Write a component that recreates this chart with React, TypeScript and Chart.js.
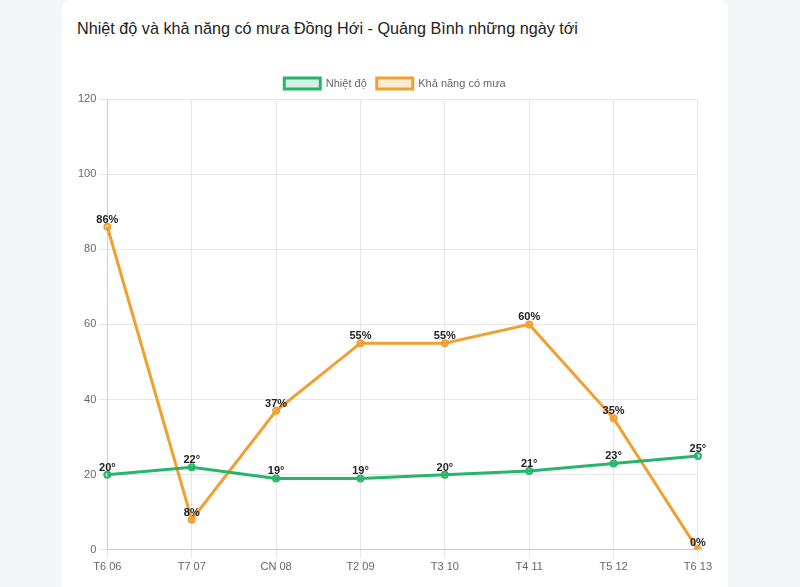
import React, { useEffect, useRef } from "react";
import { Chart, registerables } from "chart.js";

Chart.register(...registerables);

const TITLE = "Nhiệt độ và khả năng có mưa Đồng Hới - Quảng Bình những ngày tới";
const categories = ["T6 06", "T7 07", "CN 08", "T2 09", "T3 10", "T4 11", "T5 12", "T6 13"];
const temperature = [20, 22, 19, 19, 20, 21, 23, 25];
const rainChance = [86, 8, 37, 55, 55, 60, 35, 0];
const seriesNames = ["Nhiệt độ", "Khả năng có mưa"];
const seriesSuffix = ["°", "%"];
const yTicks = { min: 0, max: 120, step: 20 };

const FONT = "'Liberation Sans', Arial, Helvetica, sans-serif";

const valueLabels = {
  id: "valueLabels",
  afterDatasetsDraw(chart: any) {
    const ctx = chart.ctx;
    ctx.save();
    ctx.font = `bold 11px ${FONT}`;
    ctx.fillStyle = "#222";
    ctx.textAlign = "center";
    ctx.textBaseline = "alphabetic";
    chart.data.datasets.forEach((ds: any, i: number) => {
      const meta = chart.getDatasetMeta(i);
      meta.data.forEach((pt: any, j: number) => {
        ctx.fillText(String(ds.data[j]) + seriesSuffix[i], pt.x, pt.y - 4);
      });
    });
    ctx.restore();
  },
};

export default function App() {
  const ref = useRef<HTMLCanvasElement>(null);
  useEffect(() => {
    document.body.style.margin = "0";
    document.body.style.background = "#f3f6f8";
    const chart = new Chart(ref.current!, {
      type: "line",
      data: {
        labels: categories,
        datasets: [
          {
            label: seriesNames[0],
            data: temperature,
            borderColor: "#27b56b",
            backgroundColor: "rgba(39,181,107,0.2)",
            pointBackgroundColor: "rgba(39,181,107,0.25)",
            borderWidth: 3,
            pointRadius: 3,
            pointBorderWidth: 2,
            tension: 0,
          },
          {
            label: seriesNames[1],
            data: rainChance,
            borderColor: "#f0a030",
            backgroundColor: "rgba(240,160,48,0.2)",
            pointBackgroundColor: "rgba(240,160,48,0.25)",
            borderWidth: 3,
            pointRadius: 3,
            pointBorderWidth: 2,
            tension: 0,
          },
        ],
      },
      options: {
        animation: false,
        responsive: false,
        maintainAspectRatio: false,
        layout: { padding: 0 },
        plugins: {
          legend: {
            labels: {
              boxWidth: 36,
              boxHeight: 11,
              color: "#666",
              font: { family: FONT, size: 11 },
            },
          },
          tooltip: { enabled: false },
        },
        scales: {
          x: {
            grid: { color: "#e6e6e6" },
            ticks: { color: "#666", font: { family: FONT, size: 11 } },
          },
          y: {
            min: yTicks.min,
            max: yTicks.max,
            grid: { color: "#e6e6e6" },
            ticks: { stepSize: yTicks.step, color: "#666", font: { family: FONT, size: 11 } },
          },
        },
      },
      plugins: [valueLabels],
    });
    return () => chart.destroy();
  }, []);

  return (
    <div style={{ position: "relative", width: 800, height: 587, overflow: "hidden", background: "#f3f6f8" }}>
      <div
        style={{
          position: "absolute",
          left: 62,
          top: 0,
          width: 666,
          height: 620,
          background: "#fff",
          borderRadius: 8,
        }}
      >
        <div
          style={{
            position: "absolute",
            left: 15,
            top: 19,
            fontFamily: FONT,
            fontSize: 16.2,
            color: "#222",
            whiteSpace: "nowrap",
          }}
        >
          {TITLE}
        </div>
        <canvas
          ref={ref}
          width={640}
          height={509}
          style={{ position: "absolute", left: 13, top: 68, width: 640, height: 509 }}
        />
      </div>
    </div>
  );
}
